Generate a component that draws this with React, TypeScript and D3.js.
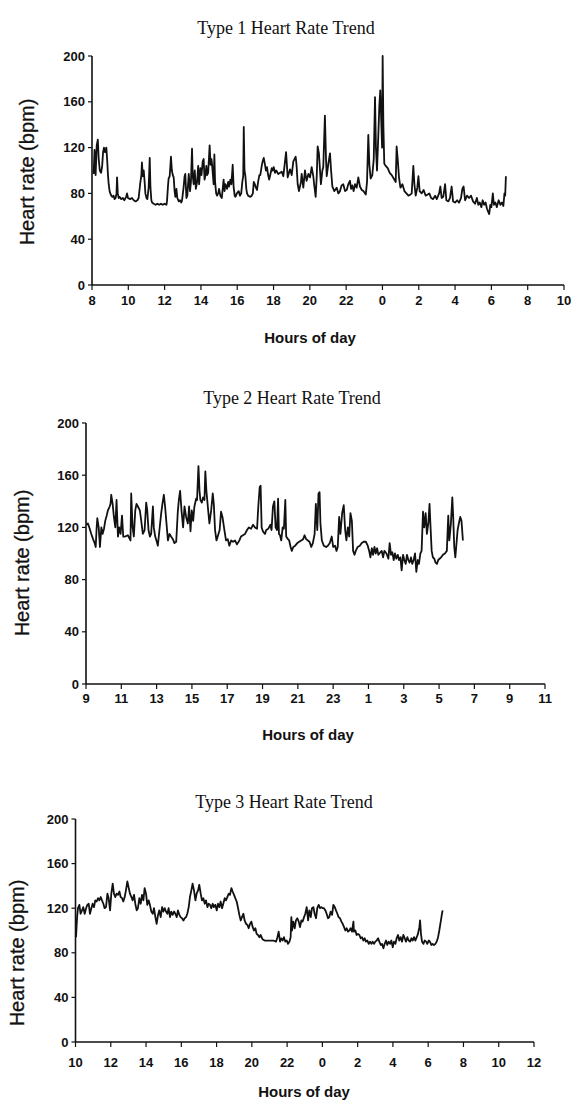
import React from "react";
import * as d3 from "d3";

// Heart-rate recordings, [hour of recording (continues past 24), bpm]
const type1Trend: [number, number][] = [
  [8.09,97],[8.14,118],[8.2,96],[8.26,122],[8.32,127],[8.37,110],[8.43,100],[8.5,98],[8.56,104],[8.61,116],
  [8.66,120],[8.72,116],[8.79,120],[8.84,108],[8.88,96],[8.92,88],[8.97,82],[9.01,80],[9.06,78],[9.12,77],
  [9.19,78],[9.24,75],[9.3,76],[9.35,80],[9.38,94],[9.42,80],[9.47,76],[9.52,77],[9.6,75],[9.7,76],
  [9.78,74],[9.88,77],[9.93,80],[9.98,76],[10.1,75],[10.2,76],[10.3,74],[10.4,73],[10.5,74],[10.57,76],
  [10.65,88],[10.72,96],[10.75,107],[10.8,95],[10.85,100],[10.9,90],[10.94,80],[11.0,76],[11.05,75],[11.12,85],
  [11.18,111],[11.22,85],[11.27,74],[11.31,72],[11.4,71],[11.5,70],[11.6,71],[11.7,70],[11.8,71],[11.9,70],
  [12.0,71],[12.1,70],[12.13,73],[12.18,85],[12.22,93],[12.28,95],[12.35,112],[12.4,100],[12.45,96],[12.5,94],
  [12.55,82],[12.59,77],[12.65,84],[12.7,76],[12.78,73],[12.85,74],[12.92,72],[12.96,74],[13.05,86],[13.1,95],
  [13.14,97],[13.2,76],[13.25,78],[13.33,97],[13.4,82],[13.45,90],[13.51,119],[13.55,95],[13.6,88],[13.66,100],
  [13.72,84],[13.79,90],[13.85,104],[13.9,88],[13.97,102],[14.03,96],[14.1,108],[14.15,110],[14.2,92],[14.25,96],
  [14.3,104],[14.34,96],[14.4,98],[14.48,122],[14.53,105],[14.58,110],[14.61,106],[14.66,96],[14.7,88],[14.74,114],
  [14.78,90],[14.84,80],[14.89,78],[14.95,80],[15.0,84],[15.07,78],[15.15,76],[15.25,92],[15.3,82],[15.35,88],
  [15.44,84],[15.5,90],[15.55,86],[15.62,92],[15.68,88],[15.75,105],[15.8,86],[15.86,78],[15.9,77],[15.98,80],
  [16.08,82],[16.15,78],[16.22,80],[16.28,90],[16.33,95],[16.36,138],[16.4,100],[16.45,95],[16.5,84],[16.54,80],
  [16.6,78],[16.72,77],[16.8,78],[16.86,80],[16.91,90],[16.97,88],[17.03,85],[17.09,83],[17.15,90],[17.22,96],
  [17.27,96],[17.35,104],[17.4,108],[17.46,111],[17.52,106],[17.58,100],[17.64,103],[17.7,96],[17.76,92],[17.83,97],
  [17.9,102],[17.96,100],[18.01,103],[18.08,98],[18.15,100],[18.26,97],[18.45,99],[18.54,95],[18.69,116],[18.78,94],
  [18.91,101],[19.0,96],[19.09,108],[19.22,112],[19.27,104],[19.33,88],[19.4,82],[19.51,90],[19.55,97],[19.64,85],
  [19.73,100],[19.82,91],[19.92,97],[20.01,94],[20.1,103],[20.19,95],[20.25,86],[20.32,77],[20.38,95],[20.43,121],
  [20.5,115],[20.61,88],[20.69,100],[20.74,103],[20.83,148],[20.89,110],[20.93,95],[21.02,106],[21.11,115],[21.17,100],
  [21.24,86],[21.35,82],[21.48,85],[21.57,80],[21.66,82],[21.75,87],[21.84,88],[21.94,82],[22.03,83],[22.12,88],
  [22.21,91],[22.27,84],[22.34,87],[22.41,82],[22.49,88],[22.58,85],[22.67,94],[22.76,86],[22.86,83],[22.95,82],
  [23.08,79],[23.15,90],[23.22,131],[23.28,105],[23.35,93],[23.44,96],[23.52,110],[23.59,164],[23.64,120],[23.7,100],
  [23.77,130],[23.83,157],[23.88,170],[23.94,140],[23.98,120],[24.01,200],[24.05,140],[24.1,106],[24.18,104],[24.29,102],
  [24.4,98],[24.51,96],[24.62,93],[24.73,90],[24.78,121],[24.84,110],[24.91,94],[24.99,85],[25.1,88],[25.21,82],
  [25.32,80],[25.43,78],[25.54,79],[25.61,80],[25.7,104],[25.76,88],[25.83,78],[25.92,85],[25.98,95],[26.05,82],
  [26.16,80],[26.27,83],[26.38,78],[26.49,79],[26.58,80],[26.68,76],[26.79,75],[26.9,78],[26.99,75],[27.12,80],
  [27.19,86],[27.26,76],[27.35,77],[27.45,88],[27.52,74],[27.63,73],[27.72,76],[27.81,86],[27.89,73],[28.0,72],
  [28.11,74],[28.22,72],[28.33,76],[28.4,84],[28.47,86],[28.55,74],[28.66,78],[28.77,76],[28.88,78],[28.99,73],
  [29.1,71],[29.2,76],[29.28,70],[29.36,72],[29.45,68],[29.52,74],[29.6,70],[29.68,72],[29.75,67],[29.82,64],
  [29.88,62],[29.94,70],[30.0,68],[30.08,80],[30.14,70],[30.22,72],[30.3,68],[30.4,74],[30.5,70],[30.58,72],
  [30.66,69],[30.72,80],[30.76,78],[30.8,95],
];

const type2Trend: [number, number][] = [
  [9.02,122],[9.11,123],[9.21,119],[9.3,115],[9.4,111],[9.49,108],[9.55,105],[9.6,119],[9.64,127],[9.72,120],
  [9.79,105],[9.87,120],[9.94,115],[10.02,119],[10.09,125],[10.17,129],[10.24,133],[10.34,136],[10.39,138],[10.43,145],
  [10.51,138],[10.58,128],[10.66,120],[10.73,141],[10.81,113],[10.88,120],[10.96,115],[11.04,129],[11.11,113],[11.22,113],
  [11.37,114],[11.52,110],[11.56,146],[11.64,120],[11.71,113],[11.79,133],[11.86,138],[11.94,136],[12.05,133],[12.13,125],
  [12.22,115],[12.32,118],[12.41,139],[12.47,133],[12.54,118],[12.62,113],[12.69,115],[12.79,136],[12.84,120],[12.92,113],
  [12.99,110],[13.07,106],[13.16,118],[13.26,131],[13.33,138],[13.41,145],[13.48,136],[13.56,123],[13.64,110],[13.73,115],
  [13.82,113],[13.92,111],[14.01,108],[14.11,109],[14.2,132],[14.26,141],[14.33,148],[14.41,133],[14.5,120],[14.58,136],
  [14.67,128],[14.77,123],[14.84,136],[14.92,117],[14.99,133],[15.07,125],[15.14,136],[15.24,142],[15.29,141],[15.37,167],
  [15.43,148],[15.48,141],[15.56,139],[15.63,143],[15.71,141],[15.76,163],[15.82,148],[15.9,136],[15.99,123],[16.09,133],
  [16.18,146],[16.24,138],[16.31,118],[16.39,110],[16.46,113],[16.57,118],[16.65,132],[16.73,128],[16.84,118],[16.93,110],
  [17.03,111],[17.12,106],[17.22,110],[17.33,109],[17.44,110],[17.55,107],[17.69,110],[17.78,113],[17.89,114],[18.01,115],
  [18.12,118],[18.23,120],[18.35,119],[18.46,122],[18.57,120],[18.69,119],[18.76,136],[18.84,151],[18.89,152],[18.95,120],
  [19.02,117],[19.14,115],[19.21,118],[19.33,119],[19.44,122],[19.51,118],[19.59,136],[19.67,140],[19.74,120],[19.82,118],
  [19.88,142],[19.93,115],[19.99,114],[20.06,110],[20.14,120],[20.21,119],[20.29,141],[20.34,113],[20.44,111],[20.51,110],
  [20.59,105],[20.66,102],[20.74,105],[20.85,106],[20.97,108],[21.08,109],[21.19,110],[21.3,111],[21.38,114],[21.47,111],
  [21.57,110],[21.66,109],[21.76,105],[21.85,108],[21.95,115],[22.02,138],[22.1,118],[22.17,146],[22.23,147],[22.28,123],
  [22.36,110],[22.47,106],[22.6,105],[22.7,106],[22.81,108],[22.92,113],[23.0,105],[23.11,106],[23.19,102],[23.26,105],
  [23.34,128],[23.41,115],[23.51,131],[23.6,137],[23.68,118],[23.75,110],[23.83,120],[23.91,113],[23.98,131],[24.06,125],
  [24.13,102],[24.21,99],[24.28,102],[24.39,105],[24.51,106],[24.62,108],[24.73,109],[24.85,109],[24.96,106],[25.04,102],
  [25.11,97],[25.19,104],[25.26,99],[25.34,105],[25.41,100],[25.49,104],[25.56,99],[25.68,101],[25.75,102],[25.83,97],
  [25.9,102],[26.02,100],[26.13,96],[26.2,108],[26.28,99],[26.35,101],[26.43,95],[26.5,100],[26.58,96],[26.66,99],
  [26.73,95],[26.81,97],[26.88,87],[26.96,99],[27.03,95],[27.11,92],[27.18,99],[27.26,95],[27.33,93],[27.41,97],
  [27.48,92],[27.56,95],[27.64,100],[27.71,86],[27.79,95],[27.86,92],[27.94,100],[28.01,102],[28.09,132],[28.16,120],
  [28.24,131],[28.31,115],[28.39,123],[28.46,138],[28.5,125],[28.58,102],[28.65,97],[28.73,96],[28.8,93],[28.88,92],
  [28.95,95],[29.03,96],[29.11,97],[29.22,99],[29.33,100],[29.44,102],[29.52,129],[29.58,110],[29.67,123],[29.75,143],
  [29.8,128],[29.86,105],[29.92,97],[29.97,105],[30.05,118],[30.12,123],[30.2,128],[30.27,125],[30.35,110],
];

const type3Trend: [number, number][] = [
  [10.03,94],[10.09,112],[10.14,120],[10.22,123],[10.29,115],[10.37,118],[10.44,121],[10.52,115],[10.6,120],[10.67,123],
  [10.75,124],[10.82,115],[10.9,120],[10.97,124],[11.05,121],[11.12,127],[11.2,126],[11.28,129],[11.35,127],[11.43,130],
  [11.5,127],[11.58,124],[11.65,120],[11.73,121],[11.81,133],[11.88,129],[11.96,118],[12.03,133],[12.11,142],[12.18,133],
  [12.26,130],[12.33,133],[12.41,132],[12.49,135],[12.56,130],[12.64,129],[12.71,126],[12.79,130],[12.86,136],[12.94,144],
  [13.02,138],[13.09,133],[13.17,130],[13.24,127],[13.32,132],[13.39,124],[13.47,118],[13.54,120],[13.62,129],[13.7,124],
  [13.77,132],[13.85,127],[13.92,138],[14.0,133],[14.07,123],[14.15,127],[14.22,123],[14.3,117],[14.38,115],[14.45,120],
  [14.53,112],[14.6,106],[14.68,114],[14.75,118],[14.83,112],[14.91,121],[14.98,117],[15.06,120],[15.13,117],[15.21,115],
  [15.28,120],[15.36,112],[15.43,117],[15.51,114],[15.59,117],[15.66,115],[15.74,112],[15.81,118],[15.89,114],[15.96,112],
  [16.04,111],[16.12,109],[16.19,111],[16.27,112],[16.34,115],[16.42,121],[16.49,130],[16.57,136],[16.64,142],[16.72,136],
  [16.8,127],[16.87,133],[16.95,136],[17.02,141],[17.1,133],[17.17,127],[17.25,129],[17.33,124],[17.4,127],[17.48,121],
  [17.55,124],[17.63,123],[17.7,120],[17.78,124],[17.85,121],[17.93,123],[18.01,118],[18.08,124],[18.16,121],[18.23,126],
  [18.31,120],[18.38,124],[18.46,129],[18.53,127],[18.61,130],[18.69,133],[18.76,132],[18.84,138],[18.91,135],[18.99,132],
  [19.06,129],[19.14,126],[19.22,120],[19.29,114],[19.37,109],[19.44,112],[19.52,115],[19.59,109],[19.67,106],[19.75,105],
  [19.82,102],[19.9,106],[19.97,108],[20.05,103],[20.12,100],[20.2,102],[20.27,97],[20.35,96],[20.43,94],[20.5,96],
  [20.58,93],[20.62,92],[20.73,91],[20.8,91],[20.99,91],[21.03,91],[21.22,91],[21.37,90],[21.45,94],[21.52,99],
  [21.6,90],[21.67,93],[21.75,91],[21.82,94],[21.9,90],[21.98,91],[22.05,88],[22.13,90],[22.2,94],[22.24,112],
  [22.28,100],[22.35,108],[22.43,102],[22.5,109],[22.58,111],[22.66,108],[22.73,103],[22.81,109],[22.88,108],[22.96,112],
  [23.03,115],[23.11,121],[23.19,109],[23.26,118],[23.34,112],[23.41,120],[23.49,121],[23.56,115],[23.64,111],[23.71,120],
  [23.79,123],[23.87,120],[23.94,121],[24.02,120],[24.09,120],[24.17,118],[24.24,115],[24.32,111],[24.39,112],[24.47,117],
  [24.55,114],[24.62,123],[24.7,121],[24.77,118],[24.85,115],[24.92,112],[25.0,111],[25.08,108],[25.15,106],[25.23,103],
  [25.3,100],[25.38,102],[25.45,99],[25.53,100],[25.6,102],[25.68,99],[25.76,108],[25.79,99],[25.87,100],[25.94,96],
  [26.02,97],[26.1,96],[26.17,93],[26.25,94],[26.32,91],[26.4,93],[26.47,90],[26.55,91],[26.63,88],[26.7,90],
  [26.78,88],[26.85,90],[26.93,88],[27.0,90],[27.08,91],[27.16,93],[27.23,90],[27.31,87],[27.38,88],[27.46,84],
  [27.53,88],[27.61,91],[27.68,87],[27.76,90],[27.84,88],[27.91,91],[27.99,85],[28.06,90],[28.14,88],[28.21,93],
  [28.29,96],[28.36,91],[28.44,94],[28.52,90],[28.59,96],[28.67,93],[28.74,90],[28.82,94],[28.89,91],[28.97,90],
  [29.05,93],[29.12,91],[29.2,94],[29.27,91],[29.35,94],[29.42,97],[29.5,103],[29.54,109],[29.59,97],[29.65,90],
  [29.73,88],[29.8,91],[29.88,90],[29.95,88],[30.03,91],[30.1,90],[30.18,87],[30.25,88],[30.33,87],[30.41,88],
  [30.48,90],[30.56,94],[30.63,100],[30.71,108],[30.78,115],[30.82,118],
];

// Tick hours on each x axis (values past 24 are shown modulo 24)
const type1HourTicks = [8, 10, 12, 14, 16, 18, 20, 22, 24, 26, 28, 30, 32, 34];
const type2HourTicks = [9, 11, 13, 15, 17, 19, 21, 23, 25, 27, 29, 31, 33, 35];
const type3HourTicks = [10, 12, 14, 16, 18, 20, 22, 24, 26, 28, 30, 32, 34, 36];
const bpmTicks = [0, 40, 80, 120, 160, 200];

const chartTitles = ["Type 1 Heart Rate Trend", "Type 2 Heart Rate Trend", "Type 3 Heart Rate Trend"];
const xAxisTitle = "Hours of day";
const yAxisTitle = "Heart rate (bpm)";

const SERIF = "'Liberation Serif', 'Times New Roman', serif";
const SANS = "'Liberation Sans', Arial, sans-serif";
const NARROW = "'Liberation Sans Narrow', 'Liberation Sans', Arial, sans-serif";

type PanelLayout = {
  left: number;
  right: number;
  top: number;
  bottom: number;
  titleX: number;
  titleY: number;
  tickLabelY: number;
  xTitleX: number;
  xTitleY: number;
  yTitleX: number;
  yTitleY: number;
};

const layouts: PanelLayout[] = [
  { left: 92, right: 564, top: 56, bottom: 285, titleX: 286, titleY: 34, tickLabelY: 305, xTitleX: 310, xTitleY: 343, yTitleX: 34, yTitleY: 172 },
  { left: 86, right: 545, top: 423, bottom: 684, titleX: 292, titleY: 404, tickLabelY: 703, xTitleX: 308, xTitleY: 740, yTitleX: 29, yTitleY: 563 },
  { left: 75.5, right: 534, top: 819, bottom: 1042, titleX: 284, titleY: 808, tickLabelY: 1067, xTitleX: 304, xTitleY: 1097, yTitleX: 24, yTitleY: 953 },
];

function Panel({ data, ticks, title, layout }: { data: [number, number][]; ticks: number[]; title: string; layout: PanelLayout }) {
  const x = d3.scaleLinear().domain([ticks[0], ticks[ticks.length - 1]]).range([layout.left, layout.right]);
  const y = d3.scaleLinear().domain([0, 200]).range([layout.bottom, layout.top]);
  const line = d3
    .line<[number, number]>()
    .x((d) => x(d[0]))
    .y((d) => y(d[1]));
  return (
    <g>
      <text x={layout.titleX} y={layout.titleY} textAnchor="middle" fontFamily={SERIF} fontSize={18} fill="#111">
        {title}
      </text>
      {/* y axis */}
      <line x1={layout.left} x2={layout.left} y1={y(200)} y2={y(0)} stroke="#111" strokeWidth={1.6} />
      {bpmTicks.map((t) => (
        <g key={t}>
          <line x1={layout.left - 4} x2={layout.left} y1={y(t)} y2={y(t)} stroke="#111" strokeWidth={1.2} />
          <text x={layout.left - 7} y={y(t) + 4.5} textAnchor="end" fontFamily={NARROW} fontWeight="bold" fontSize={13} fill="#111">
            {t}
          </text>
        </g>
      ))}
      {/* x axis */}
      <line x1={layout.left} x2={layout.right} y1={layout.bottom} y2={layout.bottom} stroke="#111" strokeWidth={1.6} />
      {ticks.map((t) => (
        <g key={t}>
          <line x1={x(t)} x2={x(t)} y1={layout.bottom} y2={layout.bottom + 5} stroke="#111" strokeWidth={1.2} />
          <text x={x(t)} y={layout.tickLabelY} textAnchor="middle" fontFamily={NARROW} fontWeight="bold" fontSize={13} fill="#111">
            {t % 24}
          </text>
        </g>
      ))}
      <path d={line(data) ?? ""} fill="none" stroke="#111" strokeWidth={1.8} strokeLinejoin="round" />
      <text x={layout.xTitleX} y={layout.xTitleY} textAnchor="middle" fontFamily={SANS} fontWeight="bold" fontSize={15} fill="#111">
        {xAxisTitle}
      </text>
      <text
        transform={`translate(${layout.yTitleX},${layout.yTitleY}) rotate(-90)`}
        textAnchor="middle"
        fontFamily={SANS}
        fontSize={20}
        fill="#111"
        stroke="#111"
        strokeWidth={0.3}
      >
        {yAxisTitle}
      </text>
    </g>
  );
}

export default function App() {
  const series = [type1Trend, type2Trend, type3Trend];
  const tickSets = [type1HourTicks, type2HourTicks, type3HourTicks];
  return (
    <svg width={574} height={1101} style={{ position: "absolute", left: 0, top: 0, background: "#fff" }}>
      <rect width={574} height={1101} fill="#fff" />
      {series.map((d, i) => (
        <Panel key={i} data={d} ticks={tickSets[i]} title={chartTitles[i]} layout={layouts[i]} />
      ))}
    </svg>
  );
}
